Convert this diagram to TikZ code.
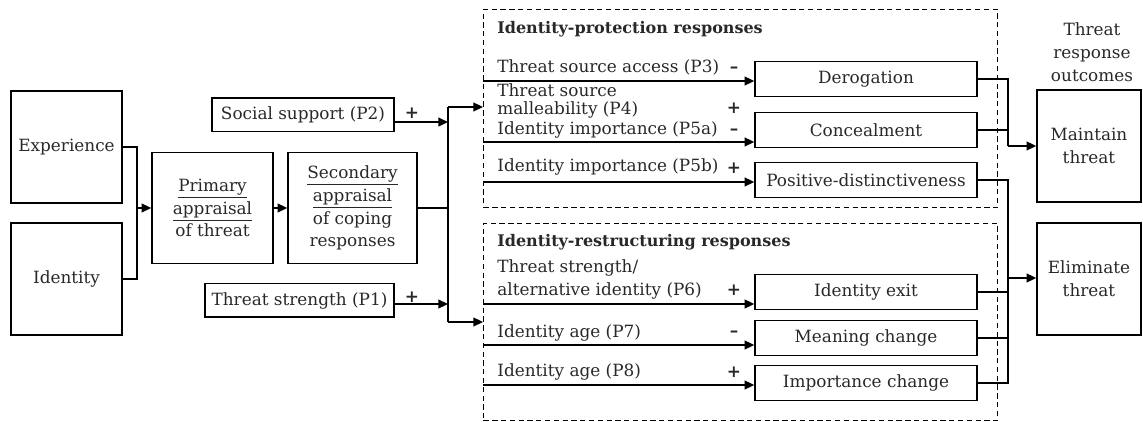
\documentclass[tikz,border=0pt]{standalone}
\usepackage{fontspec}
\setmainfont{DejaVu Serif}
\usepackage{tikz}
\usetikzlibrary{arrows.meta,positioning,calc}
\usepackage{xcolor}
\definecolor{inkgrey}{RGB}{40,40,40}
\newcommand{\figfont}{\fontsize{9.6}{13}\selectfont}
\newcommand{\headfont}{\fontsize{9.1}{13}\selectfont\bfseries}

\begin{document}
\begin{tikzpicture}[
    box/.style={rectangle, draw=black, line width=0.85pt, align=center,
        font=\figfont, text=inkgrey, inner sep=2pt},
    bigbox/.style={box, minimum width=2.22cm, minimum height=2.24cm},
    pbox/.style={box, minimum height=0.67cm},
    resp/.style={box, minimum width=4.44cm, minimum height=0.70cm},
    grp/.style={rectangle, draw=black, line width=0.55pt, dash pattern=on 3pt off 2pt,
        anchor=north west, minimum width=10.28cm, inner sep=0pt},
    lbl/.style={anchor=west, font=\figfont, text=inkgrey, inner sep=0pt, align=left},
    ttl/.style={anchor=west, font=\headfont, text=inkgrey, inner sep=0pt},
    sgn/.style={font=\figfont\bfseries, text=inkgrey, inner sep=0pt},
    ln/.style={line width=1pt},
    arr/.style={-{Triangle[length=5.5pt,width=5pt]}, line width=1pt}
]
    \useasboundingbox (0,0) rectangle (22.86,-8.44);

    % appraisal chain on the left
    \node[bigbox] (exp) at (1.33,-2.94) {Experience};
    \node[bigbox] (idn) at (1.33,-5.58) {Identity};
    \node[box, minimum width=2.42cm, minimum height=2.22cm] (prim) at (4.25,-4.16)
        {\underline{Primary}\\\underline{appraisal}\\of threat};
    \node[box, minimum width=2.58cm, minimum height=2.22cm] (sec) at (7.05,-4.16)
        {\underline{Secondary}\\\underline{appraisal}\\of coping\\responses};
    \coordinate (jl) at (2.74,-4.16);
    \draw[ln] (exp.east) -| (jl);
    \draw[ln] (idn.east) -| (jl);
    \draw[arr] (jl) -- (prim.west);
    \draw[arr] (prim) -- (sec);

    \node[pbox, minimum width=3.64cm] (soc) at (6.06,-2.30) {Social support (P2)};
    \node[pbox, minimum width=3.78cm] (ts1) at (5.99,-6.01) {Threat strength (P1)};
    \node[sgn] (s2) at (8.24,-2.26) {+};
    \node[sgn] (s1) at (8.24,-5.94) {+};

    % split towards the two response groups
    \node[grp, minimum height=3.96cm] (prot) at (9.66,-0.18) {};
    \node[grp, minimum height=3.94cm] (restr) at (9.66,-4.46) {};
    \coordinate (jm0) at (8.96,-4.16);
    \coordinate (jt) at (8.96,-2.14);
    \coordinate (jb) at (8.96,-6.44);
    \draw[ln] (sec.east) -- (jm0);
    \draw[ln] (jt) -- (jb);
    \draw[arr] (jt) -- (jt -| prot.west);
    \draw[arr] (jb) -- (jb -| restr.west);
    \draw[arr] ([yshift=-4pt]soc.east) -- ([yshift=-4pt]soc.east -| jt);
    \draw[arr] ([yshift=-2pt]ts1.east) -- ([yshift=-2pt]ts1.east -| jt);

    % identity-protection responses
    \node[ttl] (tprot) at (9.94,-0.58) {Identity-protection responses};
    \node[resp] (der) at (17.32,-1.58) {Derogation};
    \node[resp] (con) at (17.32,-2.60) {Concealment};
    \node[resp] (pos) at (17.32,-3.60) {Positive-distinctiveness};
    \node[lbl] (p3) at (9.94,-1.34) {Threat source access (P3)};
    \node[lbl] (p4) at (9.94,-2.02) {Threat source\\[-3pt]malleability (P4)};
    \node[lbl] (p5a) at (9.94,-2.60) {Identity importance (P5a)};
    \node[lbl] (p5b) at (9.94,-3.34) {Identity importance (P5b)};
    \node[sgn] (s3) at (14.68,-1.40) {--};
    \node[sgn] (s4) at (14.68,-2.16) {+};
    \node[sgn] (s5a) at (14.68,-2.64) {--};
    \node[sgn] (s5b) at (14.68,-3.36) {+};
    \coordinate (r3) at (9.66,-1.62);
    \coordinate (r5a) at (9.66,-2.84);
    \coordinate (r5b) at (9.66,-3.64);
    \draw[arr] (r3) -- (r3 -| der.west);
    \draw[arr] (r5a) -- (r5a -| con.west);
    \draw[arr] (r5b) -- (r5b -| pos.west);

    % identity-restructuring responses
    \node[ttl] (trestr) at (9.94,-4.84) {Identity-restructuring responses};
    \node[resp] (ext) at (17.32,-5.84) {Identity exit};
    \node[resp] (mng) at (17.32,-6.76) {Meaning change};
    \node[resp] (imp) at (17.32,-7.66) {Importance change};
    \node[lbl] (p6) at (9.94,-5.59) {Threat strength/\\alternative identity (P6)};
    \node[lbl] (p7) at (9.94,-6.66) {Identity age (P7)};
    \node[lbl] (p8) at (9.94,-7.44) {Identity age (P8)};
    \node[sgn] (s6) at (14.68,-5.80) {+};
    \node[sgn] (s7) at (14.68,-6.68) {--};
    \node[sgn] (s8) at (14.68,-7.44) {+};
    \coordinate (r6) at (9.66,-6.08);
    \coordinate (r7) at (9.66,-6.90);
    \coordinate (r8) at (9.66,-7.70);
    \draw[arr] (r6) -- (r6 -| ext.west);
    \draw[arr] (r7) -- (r7 -| mng.west);
    \draw[arr] (r8) -- (r8 -| imp.west);

    % outcomes on the right
    \node[font=\figfont, text=inkgrey, align=center, inner sep=0pt] (tout) at (21.84,-1.04)
        {Threat\\response\\outcomes};
    \node[box, minimum width=2.08cm, minimum height=2.24cm] (maint) at (21.78,-2.92)
        {Maintain\\threat};
    \node[box, minimum width=2.08cm, minimum height=2.24cm] (elim) at (21.78,-5.58)
        {Eliminate\\threat};
    \coordinate (jr1) at (20.16,-2.92);
    \coordinate (jr2) at (20.16,-5.56);
    \draw[ln] (der.east) -| (jr1);
    \draw[ln] (con.east) -| (jr1);
    \draw[arr] (jr1) -- (maint.west);
    \draw[ln] (pos.east) -| (jr2);
    \draw[ln] (ext.east) -| (jr2);
    \draw[ln] (mng.east) -| (jr2);
    \draw[ln] (imp.east) -| (jr2);
    \draw[arr] (jr2) -- (jr2 -| elim.west);
\end{tikzpicture}
\end{document}
